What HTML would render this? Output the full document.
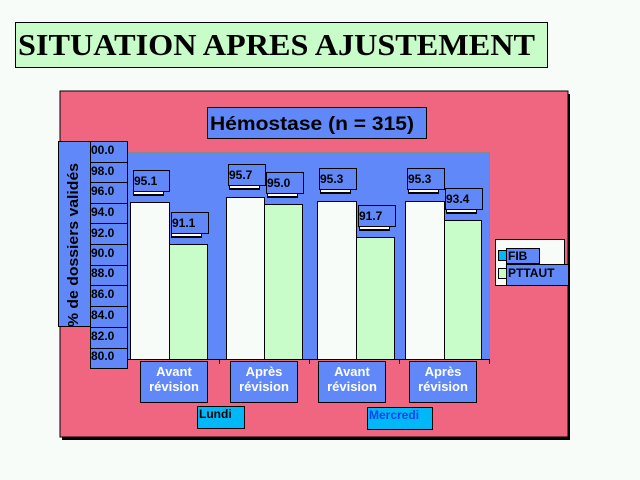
<!DOCTYPE html>
<html><head><meta charset="utf-8"><style>html,body{margin:0;padding:0;background:#f8fcf8}svg{display:block}</style></head>
<body>
<svg width="640" height="480" xmlns="http://www.w3.org/2000/svg" font-family="Liberation Sans, sans-serif">
<rect width="640" height="480" fill="#f8fcf8"/>
<rect x="15.5" y="22.5" width="532" height="45" fill="#c8fcc8" stroke="#000"/>
<text x="18" y="55" font-family="Liberation Serif, serif" font-weight="bold" font-size="31" textLength="517" lengthAdjust="spacingAndGlyphs">SITUATION APRES AJUSTEMENT</text>
<!-- pink panel -->
<rect x="62" y="94" width="508" height="346" fill="#000"/>
<rect x="60" y="91" width="508" height="346" fill="#f06680" stroke="#000" stroke-width="1"/>
<!-- plot area -->
<rect x="90" y="152" width="400" height="207" fill="#6088f8"/>
<line x1="90" y1="152.5" x2="490" y2="152.5" stroke="#888"/>
<line x1="489.5" y1="152" x2="489.5" y2="359" stroke="#888"/>
<line x1="90" y1="359.5" x2="490" y2="359.5" stroke="#000"/>
<line x1="219.5" y1="359" x2="219.5" y2="364" stroke="#000"/>
<line x1="309.5" y1="359" x2="309.5" y2="364" stroke="#000"/>
<line x1="399.5" y1="359" x2="399.5" y2="364" stroke="#000"/>
<line x1="489.5" y1="359" x2="489.5" y2="364" stroke="#000"/>
<!-- title -->
<rect x="207.5" y="107.5" width="219" height="31" fill="#6088f8" stroke="#000"/>
<text x="210" y="130" font-weight="bold" font-size="19" textLength="204" lengthAdjust="spacingAndGlyphs">Hémostase (n = 315)</text>
<!-- bars -->
<g stroke="#000" stroke-width="1">
<rect x="130.5" y="202.5" width="39" height="157" fill="#f8fcf8"/>
<rect x="169.5" y="244.5" width="38" height="115" fill="#c8fcc8"/>
<rect x="226.5" y="197.5" width="38" height="162" fill="#f8fcf8"/>
<rect x="264.5" y="204.5" width="38" height="155" fill="#c8fcc8"/>
<rect x="317.5" y="201.5" width="39" height="158" fill="#f8fcf8"/>
<rect x="356.5" y="237.5" width="38" height="122" fill="#c8fcc8"/>
<rect x="405.5" y="201.5" width="39" height="158" fill="#f8fcf8"/>
<rect x="444.5" y="220.5" width="37" height="139" fill="#c8fcc8"/>
</g>
<!-- value labels -->
<g font-size="12" font-weight="bold">
<g><rect x="133" y="191" width="31" height="5" fill="#000"/><rect x="134" y="191" width="29" height="3" fill="#fff"/><rect x="133.5" y="170.5" width="36" height="21" fill="#6088f8" stroke="#000"/><text x="134" y="185">95.1</text></g>
<g><rect x="171" y="233" width="31" height="5" fill="#000"/><rect x="172" y="233" width="29" height="3" fill="#fff"/><rect x="171.5" y="212.5" width="37" height="21" fill="#6088f8" stroke="#000"/><text x="172" y="227">91.1</text></g>
<g><rect x="229" y="185" width="31" height="5" fill="#000"/><rect x="230" y="185" width="29" height="3" fill="#fff"/><rect x="228.5" y="164.5" width="37" height="21" fill="#6088f8" stroke="#000"/><text x="229" y="179">95.7</text></g>
<g><rect x="267" y="193" width="31" height="5" fill="#000"/><rect x="268" y="193" width="29" height="3" fill="#fff"/><rect x="266.5" y="172.5" width="37" height="21" fill="#6088f8" stroke="#000"/><text x="267" y="187">95.0</text></g>
<g><rect x="320" y="189" width="31" height="5" fill="#000"/><rect x="321" y="189" width="29" height="3" fill="#fff"/><rect x="319.5" y="168.5" width="37" height="21" fill="#6088f8" stroke="#000"/><text x="320" y="183">95.3</text></g>
<g><rect x="359" y="226" width="31" height="5" fill="#000"/><rect x="360" y="226" width="29" height="3" fill="#fff"/><rect x="358.5" y="205.5" width="37" height="21" fill="#6088f8" stroke="#000"/><text x="359" y="220">91.7</text></g>
<g><rect x="408" y="189" width="31" height="5" fill="#000"/><rect x="409" y="189" width="29" height="3" fill="#fff"/><rect x="407.5" y="168.5" width="37" height="21" fill="#6088f8" stroke="#000"/><text x="408" y="183">95.3</text></g>
<g><rect x="446" y="209" width="31" height="5" fill="#000"/><rect x="447" y="209" width="29" height="3" fill="#fff"/><rect x="445.5" y="188.5" width="37" height="21" fill="#6088f8" stroke="#000"/><text x="446" y="203">93.4</text></g>
</g>
<!-- y axis label -->
<rect x="58.5" y="141.5" width="32" height="185" fill="#6088f8" stroke="#000"/>
<text transform="translate(78,327) rotate(-90)" font-weight="bold" font-size="15" textLength="164" lengthAdjust="spacingAndGlyphs">% de dossiers validés</text>
<!-- tick labels -->
<g font-size="12" font-weight="bold" stroke="#000">
<rect x="90.5" y="141.5" width="37" height="21" fill="#6088f8"/>
<rect x="90.5" y="162.5" width="37" height="20" fill="#6088f8"/>
<rect x="90.5" y="182.5" width="37" height="21" fill="#6088f8"/>
<rect x="90.5" y="203.5" width="37" height="20" fill="#6088f8"/>
<rect x="90.5" y="223.5" width="37" height="21" fill="#6088f8"/>
<rect x="90.5" y="244.5" width="37" height="21" fill="#6088f8"/>
<rect x="90.5" y="265.5" width="37" height="20" fill="#6088f8"/>
<rect x="90.5" y="285.5" width="37" height="21" fill="#6088f8"/>
<rect x="90.5" y="306.5" width="37" height="21" fill="#6088f8"/>
<rect x="90.5" y="327.5" width="37" height="21" fill="#6088f8"/>
<rect x="90.5" y="348.5" width="37" height="20" fill="#6088f8"/>
</g>
<g font-size="12" font-weight="bold">
<text x="91" y="154">00.0</text>
<text x="91" y="175">98.0</text>
<text x="91" y="195">96.0</text>
<text x="91" y="216">94.0</text>
<text x="91" y="237">92.0</text>
<text x="91" y="257">90.0</text>
<text x="91" y="277">88.0</text>
<text x="91" y="298">86.0</text>
<text x="91" y="319">84.0</text>
<text x="91" y="340">82.0</text>
<text x="91" y="360">80.0</text>
</g>
<!-- categories -->
<g stroke="#000" fill="#6088f8">
<rect x="140.5" y="361.5" width="67" height="41"/>
<rect x="230.5" y="361.5" width="67" height="41"/>
<rect x="318.5" y="361.5" width="67" height="41"/>
<rect x="409.5" y="361.5" width="67" height="41"/>
</g>
<g font-size="13" font-weight="bold" fill="#fff" text-anchor="middle">
<text x="174" y="376">Avant</text><text x="174" y="391">révision</text>
<text x="264" y="376">Après</text><text x="264" y="391">révision</text>
<text x="352" y="376">Avant</text><text x="352" y="391">révision</text>
<text x="443" y="376">Après</text><text x="443" y="391">révision</text>
</g>
<rect x="197.5" y="406.5" width="47" height="22" fill="#00b8f8" stroke="#000"/>
<text x="199" y="418" font-size="12" font-weight="bold">Lundi</text>
<rect x="367.5" y="407.5" width="65" height="22" fill="#00b8f8" stroke="#000"/>
<text x="369" y="419" font-size="12" font-weight="bold" fill="#1040f0">Mercredi</text>
<!-- legend -->
<rect x="495.5" y="239.5" width="69" height="46" fill="#f8fcf8" stroke="#000"/>
<rect x="498.5" y="250.5" width="8" height="10" fill="#00b8f8" stroke="#000"/>
<rect x="498.5" y="268.5" width="8" height="10" fill="#c8fcc8" stroke="#000"/>
<rect x="506.5" y="248.5" width="33" height="15" fill="#6088f8" stroke="#000"/>
<text x="508" y="260" font-size="12" font-weight="bold">FIB</text>
<rect x="506.5" y="264.5" width="62" height="21" fill="#6088f8" stroke="#000"/>
<text x="508" y="277" font-size="12" font-weight="bold">PTTAUT</text>
</svg>
</body></html>
